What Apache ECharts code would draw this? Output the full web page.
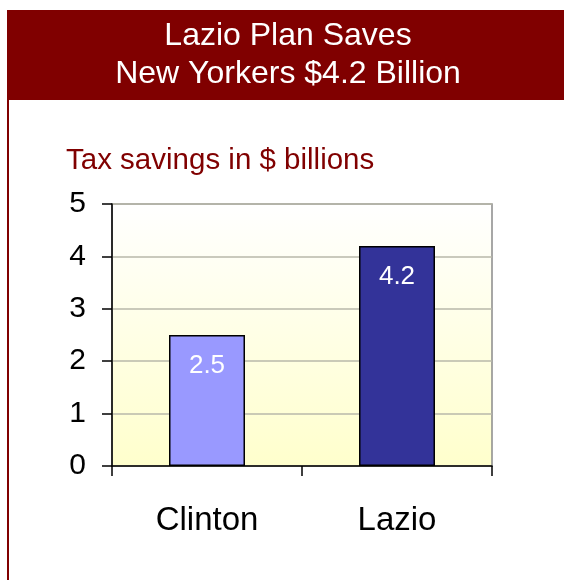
<!DOCTYPE html>
<html>
<head>
<meta charset="utf-8">
<script src="https://cdn.jsdelivr.net/npm/echarts@6/dist/echarts.min.js"></script>
<style>
  html, body { margin: 0; padding: 0; background: #fff; }
  #chart { width: 564px; height: 580px; }
</style>
</head>
<body>
<div id="chart"></div>
<script>
// Tax savings (in $ billions) under each plan
const categories = ['Clinton', 'Lazio'];
const savings = [2.5, 4.2];
const barColors = ['#9999FF', '#333399'];
const yTicks = [0, 1, 2, 3, 4, 5];

const FONT = '"Liberation Sans", Arial, Helvetica, sans-serif';
const DARK_RED = '#800000';

const chart = echarts.init(document.getElementById('chart'), null, { renderer: 'canvas' });

chart.setOption({
  backgroundColor: '#ffffff',
  animation: false,
  graphic: [
    // header band
    { type: 'rect', shape: { x: 7, y: 10, width: 557, height: 90 }, style: { fill: DARK_RED }, z: 0 },
    // left rule down the page
    { type: 'rect', shape: { x: 7, y: 100, width: 2, height: 480 }, style: { fill: DARK_RED }, z: 0 },
    {
      type: 'text', x: 288, y: 36, z: 10,
      style: { text: 'Lazio Plan Saves', fill: '#fff', font: '32px ' + FONT, align: 'center', verticalAlign: 'middle' }
    },
    {
      type: 'text', x: 288, y: 74, z: 10,
      style: { text: 'New Yorkers $4.2 Billion', fill: '#fff', font: '32px ' + FONT, align: 'center', verticalAlign: 'middle' }
    },
    {
      type: 'text', x: 66, y: 161, z: 10,
      style: { text: 'Tax savings in $ billions', fill: DARK_RED, font: '29.5px ' + FONT, align: 'left', verticalAlign: 'middle' }
    }
  ],
  grid: {
    left: 112, right: 72, top: 204, bottom: 114,
    show: true,
    borderColor: '#8a8a8a',
    borderWidth: 1.5,
    backgroundColor: new echarts.graphic.LinearGradient(0, 0, 0, 1, [
      { offset: 0, color: '#FFFFFF' },
      { offset: 1, color: '#FFFFCC' }
    ])
  },
  xAxis: {
    type: 'category',
    data: categories,
    axisLine: { lineStyle: { color: '#000', width: 1.5 } },
    axisTick: { show: true, length: 10, alignWithLabel: false, lineStyle: { color: '#000', width: 1.5 } },
    axisLabel: { color: '#000', fontSize: 33, fontFamily: FONT, margin: 38 },
    splitLine: { show: false }
  },
  yAxis: {
    type: 'value',
    min: yTicks[0],
    max: yTicks[yTicks.length - 1],
    interval: 1,
    axisLine: { show: true, lineStyle: { color: '#000', width: 1.5 } },
    axisTick: { show: true, length: 10, lineStyle: { color: '#000', width: 1.5 } },
    axisLabel: { color: '#000', fontSize: 30, fontFamily: FONT, margin: 26 },
    splitLine: { show: true, lineStyle: { color: '#b8b8aa', width: 1.5 } }
  },
  series: [{
    type: 'bar',
    data: savings.map((v, i) => ({ value: v, itemStyle: { color: barColors[i] } })),
    barCategoryGap: '60%',
    itemStyle: { borderColor: '#000', borderWidth: 1.5 },
    label: {
      show: true,
      position: 'insideTop',
      distance: 18,
      color: '#fff',
      fontSize: 26,
      fontFamily: FONT
    }
  }]
});
</script>
</body>
</html>
